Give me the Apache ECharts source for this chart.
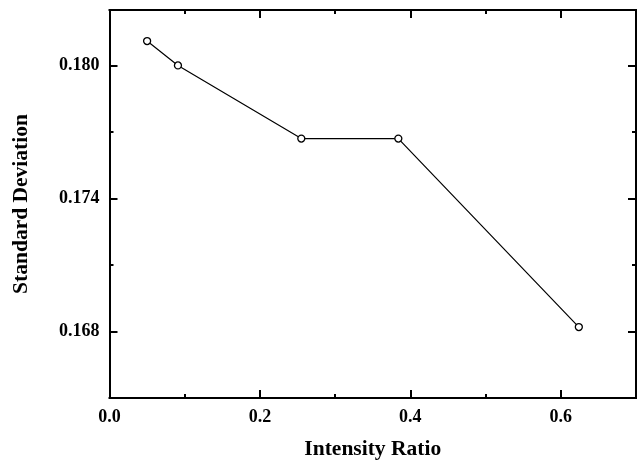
<!DOCTYPE html>
<html>
<head>
<meta charset="utf-8">
<script src="https://cdn.jsdelivr.net/npm/echarts@6/dist/echarts.min.js"></script>
<style>html,body{margin:0;padding:0;background:#fff}#c{width:640px;height:462px}</style>
</head>
<body>
<div id="c"></div>
<script>
var xValues = [0.050, 0.091, 0.255, 0.384, 0.624];
var yValues = [0.1811, 0.1800, 0.1767, 0.1767, 0.1682];
var xMajorTicks = [0, 0.2, 0.4, 0.6];
var xMinorTicks = [0.1, 0.3, 0.5];
var yMajorTicks = [0.168, 0.174, 0.180];
var yMinorTicks = [0.171, 0.177];
var xTitle = 'Intensity Ratio';
var yTitle = 'Standard Deviation';

var FONT = '"Liberation Serif", "Times New Roman", serif';
var X_MIN = 0, X_MAX = 0.7, Y_MIN = 0.165, Y_MAX = 0.1825;

function xAx(pos, ticks, len, labels, name) {
  return {
    type: 'value', position: pos, min: X_MIN, max: X_MAX, offset: 0,
    name: name || '', nameLocation: 'middle', nameGap: 40,
    nameTextStyle: { fontFamily: FONT, fontWeight: 'bold', fontSize: 21.5, color: '#000' },
    axisLine: { show: true, onZero: false, lineStyle: { color: '#000', width: 2 } },
    axisTick: { show: true, inside: true, length: len, customValues: ticks, lineStyle: { color: '#000', width: 2 } },
    axisLabel: labels ? { show: true, customValues: ticks, margin: 10, fontFamily: FONT, fontWeight: 'bold', fontSize: 18, color: '#000', formatter: function (v) { return v.toFixed(1); } } : { show: false },
    splitLine: { show: false }
  };
}
function yAx(pos, ticks, len, labels, name) {
  return {
    type: 'value', position: pos, min: Y_MIN, max: Y_MAX, offset: 0,
    name: name || '', nameLocation: 'middle', nameGap: 77,
    nameTextStyle: { fontFamily: FONT, fontWeight: 'bold', fontSize: 21.5, color: '#000' },
    axisLine: { show: true, onZero: false, lineStyle: { color: '#000', width: 2 } },
    axisTick: { show: true, inside: true, length: len, customValues: ticks, lineStyle: { color: '#000', width: 2 } },
    axisLabel: labels ? { show: true, customValues: ticks, margin: 10, fontFamily: FONT, fontWeight: 'bold', fontSize: 18, color: '#000', formatter: function (v) { return v.toFixed(3); } } : { show: false },
    splitLine: { show: false }
  };
}

var chart = echarts.init(document.getElementById('c'), null, { renderer: 'canvas' });
chart.setOption({
  backgroundColor: '#fff',
  animation: false,
  grid: { left: 109.5, right: 4, top: 10, bottom: 64, containLabel: false, outerBoundsMode: 'none' },
  xAxis: [
    xAx('bottom', xMajorTicks, 8, true, xTitle),
    xAx('bottom', xMinorTicks, 4, false),
    xAx('top', xMajorTicks, 8, false),
    xAx('top', xMinorTicks, 4, false)
  ],
  yAxis: [
    yAx('left', yMajorTicks, 8, true, yTitle),
    yAx('left', yMinorTicks, 4, false),
    yAx('right', yMajorTicks, 8, false),
    yAx('right', yMinorTicks, 4, false)
  ],
  series: [{
    type: 'line',
    xAxisIndex: 0, yAxisIndex: 0,
    data: xValues.map(function (x, i) { return [x, yValues[i]]; }),
    symbol: 'circle', symbolSize: 7, showAllSymbol: true,
    lineStyle: { color: '#000', width: 1.2 },
    itemStyle: { color: '#fff', borderColor: '#000', borderWidth: 1.3 }
  }]
});
</script>
</body>
</html>
